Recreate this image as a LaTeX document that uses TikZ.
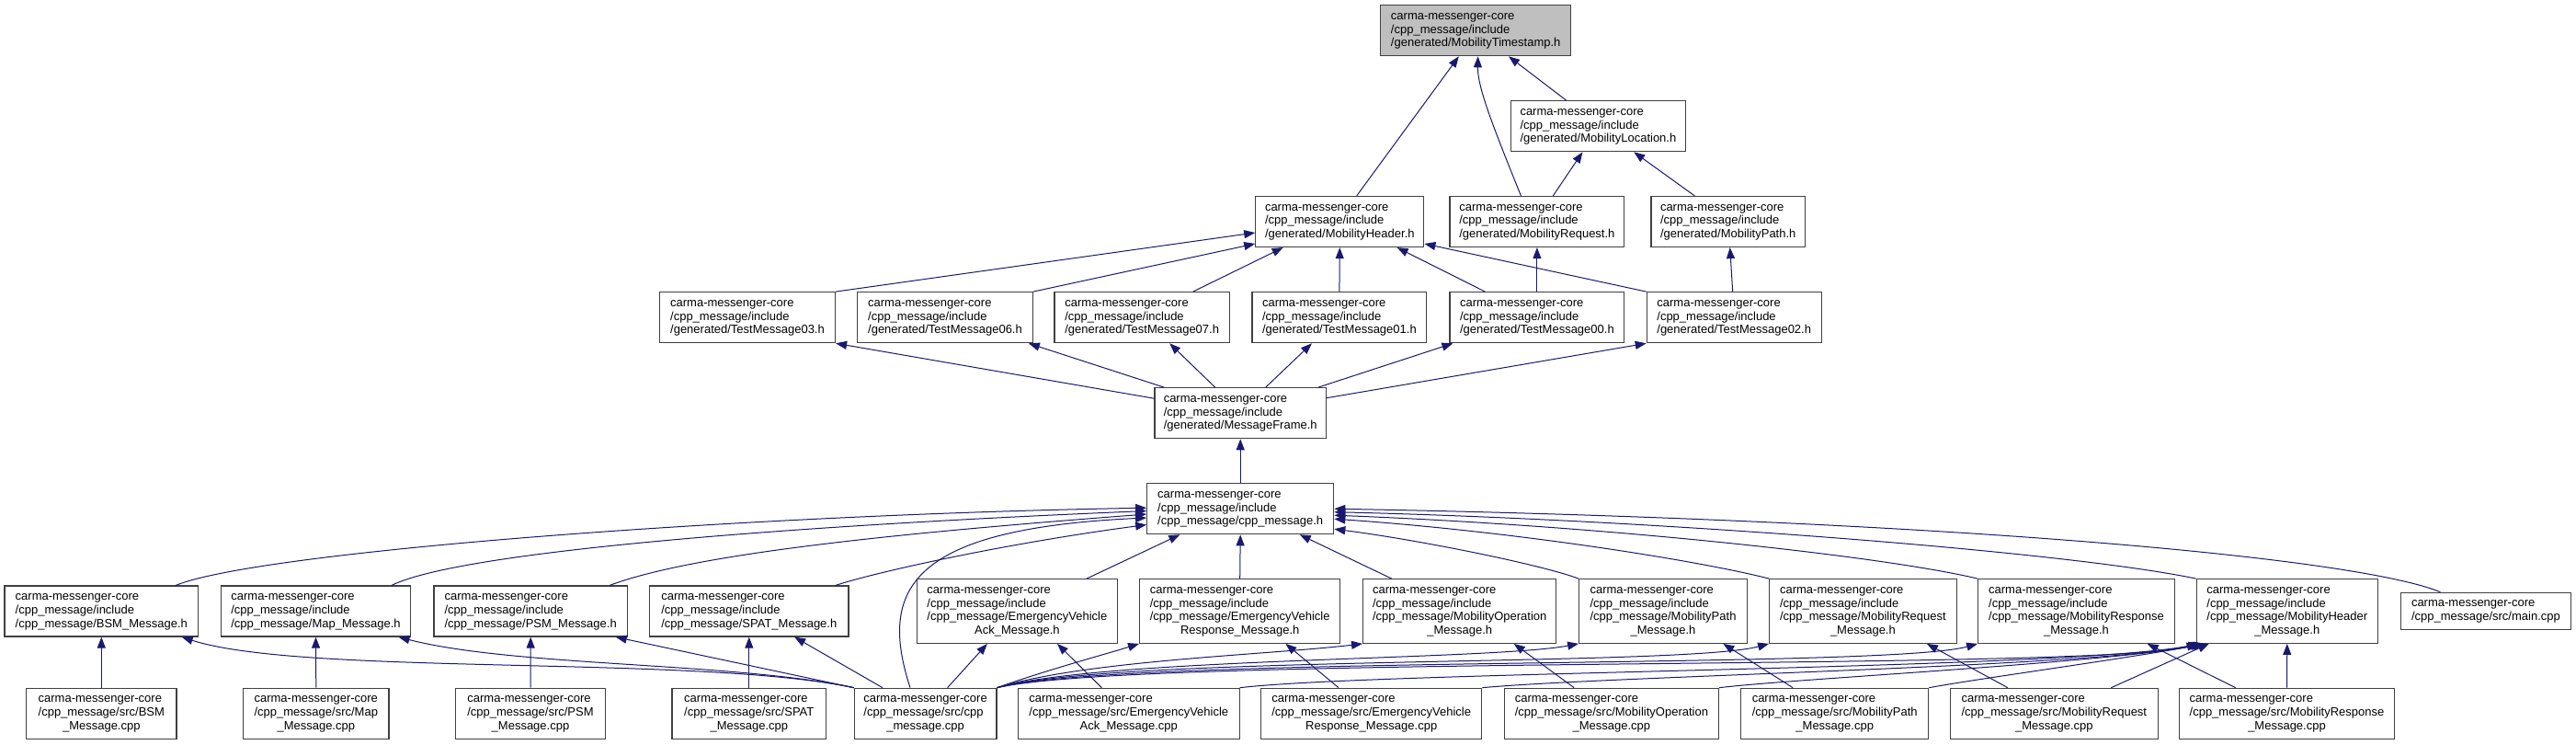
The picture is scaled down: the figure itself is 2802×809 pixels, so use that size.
\documentclass[tikz,border=0pt]{standalone}
\usepackage{fontspec}
\setmainfont{Liberation Sans}
\usetikzlibrary{arrows.meta}
\definecolor{midblue}{HTML}{191970}
\definecolor{boxline}{HTML}{404040}
\definecolor{grayfill}{HTML}{BFBFBF}
\newcommand{\nodefont}{\fontsize{13}{14.8}\selectfont}
\newcommand{\lbl}[2]{\begin{tabular}{@{}l@{}}#1\\\multicolumn{1}{@{}c@{}}{#2}\end{tabular}}
\renewcommand{\arraystretch}{1}
\begin{document}
\begin{tikzpicture}[x=1pt,y=-1pt,
  box/.style={draw=boxline, line width=1.2pt, fill=white, inner sep=0pt, font=\nodefont, text=black, minimum height=55pt},
  bw/.style={minimum width=#1pt},
  fourl/.style={minimum height=69.6pt},
  twol/.style={minimum height=40pt},
  cur/.style={fill=grayfill},
  edge/.style={draw=midblue, line width=1pt, -{Triangle[length=12pt,width=9pt]}}]
\useasboundingbox (0,0) rectangle (2802,809);
% rows 0-2
\node[box,cur,bw=206.7] (ts) at (1605.2,33.2) {\lbl{carma-messenger-core\\/cpp\_message/include}{/generated/MobilityTimestamp.h}};
\node[box,bw=190.2] (loc) at (1738.4,137.2) {\lbl{carma-messenger-core\\/cpp\_message/include}{/generated/MobilityLocation.h}};
\node[box,bw=183] (hdr) at (1457.3,241) {\lbl{carma-messenger-core\\/cpp\_message/include}{/generated/MobilityHeader.h}};
\node[box,bw=189.8] (req) at (1671.9,241) {\lbl{carma-messenger-core\\/cpp\_message/include}{/generated/MobilityRequest.h}};
\node[box,bw=167.6] (path) at (1879.7,241) {\lbl{carma-messenger-core\\/cpp\_message/include}{/generated/MobilityPath.h}};
% row 3
\node[box,bw=191] (tm03) at (813,345.2) {\lbl{carma-messenger-core\\/cpp\_message/include}{/generated/TestMessage03.h}};
\node[box,bw=190.5] (tm06) at (1028,345.2) {\lbl{carma-messenger-core\\/cpp\_message/include}{/generated/TestMessage06.h}};
\node[box,bw=190.6] (tm07) at (1242.2,345.2) {\lbl{carma-messenger-core\\/cpp\_message/include}{/generated/TestMessage07.h}};
\node[box,bw=189.8] (tm01) at (1456.9,345.2) {\lbl{carma-messenger-core\\/cpp\_message/include}{/generated/TestMessage01.h}};
\node[box,bw=189.8] (tm00) at (1671.9,345.2) {\lbl{carma-messenger-core\\/cpp\_message/include}{/generated/TestMessage00.h}};
\node[box,bw=189.8] (tm02) at (1886.2,345.2) {\lbl{carma-messenger-core\\/cpp\_message/include}{/generated/TestMessage02.h}};
% rows 4-5
\node[box,bw=186.3] (mf) at (1349.2,449.2) {\lbl{carma-messenger-core\\/cpp\_message/include}{/generated/MessageFrame.h}};
\node[box,bw=203] (cpph) at (1349.2,553.2) {\lbl{carma-messenger-core\\/cpp\_message/include}{/cpp\_message/cpp\_message.h}};
% row 6
\node[box,bw=210.5] (bsmh) at (110.3,664.5) {\lbl{carma-messenger-core\\/cpp\_message/include}{/cpp\_message/BSM\_Message.h}};
\node[box,bw=206] (maph) at (343.5,664.5) {\lbl{carma-messenger-core\\/cpp\_message/include}{/cpp\_message/Map\_Message.h}};
\node[box,bw=210.4] (psmh) at (577.2,664.5) {\lbl{carma-messenger-core\\/cpp\_message/include}{/cpp\_message/PSM\_Message.h}};
\node[box,bw=216.2] (spath) at (814.8,664.5) {\lbl{carma-messenger-core\\/cpp\_message/include}{/cpp\_message/SPAT\_Message.h}};
\node[box,fourl,bw=218.1] (evackh) at (1106.4,664.5) {\lbl{carma-messenger-core\\/cpp\_message/include\\/cpp\_message/EmergencyVehicle}{Ack\_Message.h}};
\node[box,fourl,bw=218.1] (evresph) at (1348.7,664.5) {\lbl{carma-messenger-core\\/cpp\_message/include\\/cpp\_message/EmergencyVehicle}{Response\_Message.h}};
\node[box,fourl,bw=210.2] (mobopth) at (1587.7,664.5) {\lbl{carma-messenger-core\\/cpp\_message/include\\/cpp\_message/MobilityOperation}{\_Message.h}};
\node[box,fourl,bw=182.7] (mobpathh) at (1809,664.5) {\lbl{carma-messenger-core\\/cpp\_message/include\\/cpp\_message/MobilityPath}{\_Message.h}};
\node[box,fourl,bw=203.4] (mobreqh) at (2026.4,664.5) {\lbl{carma-messenger-core\\/cpp\_message/include\\/cpp\_message/MobilityRequest}{\_Message.h}};
\node[box,fourl,bw=213.7] (mobresph) at (2258.5,664.5) {\lbl{carma-messenger-core\\/cpp\_message/include\\/cpp\_message/MobilityResponse}{\_Message.h}};
\node[box,fourl,bw=197.3] (mobhdrh) at (2487.8,664.5) {\lbl{carma-messenger-core\\/cpp\_message/include\\/cpp\_message/MobilityHeader}{\_Message.h}};
\node[box,twol,bw=185.2] (maincpp) at (2703.9,664.3) {\lbl{carma-messenger-core}{/cpp\_message/src/main.cpp}};
% bottom row
\node[box,bw=163.3] (bsmc) at (110.3,775.8) {\lbl{carma-messenger-core\\/cpp\_message/src/BSM}{\_Message.cpp}};
\node[box,bw=158.2] (mapc) at (343.8,775.8) {\lbl{carma-messenger-core\\/cpp\_message/src/Map}{\_Message.cpp}};
\node[box,bw=162.6] (psmc) at (577,775.8) {\lbl{carma-messenger-core\\/cpp\_message/src/PSM}{\_Message.cpp}};
\node[box,bw=167.8] (spatc) at (814.8,775.8) {\lbl{carma-messenger-core\\/cpp\_message/src/SPAT}{\_Message.cpp}};
\node[box,bw=154.6] (cppc) at (1006.6,775.8) {\lbl{carma-messenger-core\\/cpp\_message/src/cpp}{\_message.cpp}};
\node[box,bw=240.6] (evackc) at (1227.8,775.8) {\lbl{carma-messenger-core\\/cpp\_message/src/EmergencyVehicle}{Ack\_Message.cpp}};
\node[box,bw=240] (evrespc) at (1491.7,775.8) {\lbl{carma-messenger-core\\/cpp\_message/src/EmergencyVehicle}{Response\_Message.cpp}};
\node[box,bw=232.7] (mobopc) at (1752.9,775.8) {\lbl{carma-messenger-core\\/cpp\_message/src/MobilityOperation}{\_Message.cpp}};
\node[box,bw=204] (mobpathc) at (1995.7,775.8) {\lbl{carma-messenger-core\\/cpp\_message/src/MobilityPath}{\_Message.cpp}};
\node[box,bw=225.8] (mobreqc) at (2234.3,775.8) {\lbl{carma-messenger-core\\/cpp\_message/src/MobilityRequest}{\_Message.cpp}};
\node[box,bw=234.3] (mobrespc) at (2487.5,775.8) {\lbl{carma-messenger-core\\/cpp\_message/src/MobilityResponse}{\_Message.cpp}};
% edges top
\draw[edge] ([xshift=18.4]hdr.north) -- ([xshift=-18.4]ts.south);
\draw[edge] ([xshift=-17.5]req.north) .. controls (1625,140) and (1607,95) .. ([xshift=2.4]ts.south);
\draw[edge] ([xshift=-34.8]loc.north) -- ([xshift=35.8]ts.south);
\draw[edge] ([xshift=17.4]req.north) -- ([xshift=-17]loc.south);
\draw[edge] ([xshift=-36.4]path.north) -- ([xshift=38.8]loc.south);
\draw[edge] (tm03.north east) -- ([yshift=-12]hdr.west);
\draw[edge] (tm06.north east) -- ([yshift=-24]hdr.west);
\draw[edge] ([xshift=55.5]tm07.north) -- ([xshift=-61.6]hdr.south);
\draw[edge] (tm01.north) -- (hdr.south);
\draw[edge] ([xshift=-56.6]tm00.north) -- ([xshift=62.3]hdr.south);
\draw[edge] (tm02.north west) -- ([yshift=-24]hdr.east);
\draw[edge] (tm00.north) -- (req.south);
\draw[edge] ([xshift=-1.5]tm02.north) -- ([xshift=2]path.south);
% MessageFrame
\draw[edge] ([yshift=16]mf.west) -- (tm03.south east);
\draw[edge] ([xshift=10.7]mf.north west) -- ([xshift=-5]tm06.south east);
\draw[edge] ([xshift=-27.5]mf.north) -- ([xshift=30]tm07.south);
\draw[edge] ([xshift=27.5]mf.north) -- ([xshift=-30]tm01.south);
\draw[edge] ([xshift=-9]mf.north east) -- ([xshift=4]tm00.south west);
\draw[edge] ([yshift=16.5]mf.east) -- (tm02.south west);
\draw[edge] (cpph.north) -- (mf.south);
% into cpp_message.h
\draw[edge] ([xshift=81]bsmh.north) .. controls (280,600) and (800,560) .. ([yshift=1]cpph.west);
\draw[edge] ([xshift=82.5]maph.north) .. controls (500,600) and (850,572) .. ([yshift=-2.3]cpph.west);
\draw[edge] ([xshift=86]psmh.north) .. controls (760,600) and (1000,578) .. ([yshift=-5.8]cpph.west);
\draw[edge] ([xshift=94]spath.north) .. controls (960,620) and (1100,590) .. ([yshift=-17.3]cpph.west);
\draw[edge] ([xshift=-16.6]cppc.north) .. controls (955,640) and (990,575) .. ([yshift=-9.8]cpph.west);
\draw[edge] ([xshift=75.6]evackh.north) -- ([xshift=-65.8]cpph.south);
\draw[edge] (evresph.north) -- (cpph.south);
\draw[edge] ([xshift=-74]mobopth.north) -- ([xshift=64.5]cpph.south);
\draw[edge] ([xshift=-49.5]maincpp.north) .. controls (2560,605) and (2100,565) .. (cpph.east);
\draw[edge] (mobhdrh.north west) .. controls (2250,600) and (1800,565) .. ([yshift=-3.5]cpph.east);
\draw[edge] (mobresph.north west) .. controls (2050,605) and (1750,572) .. ([yshift=-7]cpph.east);
\draw[edge] (mobreqh.north west) .. controls (1850,610) and (1650,578) .. ([yshift=-11]cpph.east);
\draw[edge] (mobpathh.north west) .. controls (1680,615) and (1550,588) .. ([yshift=-22]cpph.east);
% cpp -> h
\draw[edge] (bsmc.north) -- (bsmh.south);
\draw[edge] (mapc.north) -- (maph.south);
\draw[edge] (psmc.north) -- (psmh.south);
\draw[edge] (spatc.north) -- (spath.south);
\draw[edge] ([xshift=-29.4]evackc.north) -- ([xshift=43.6]evackh.south);
\draw[edge] ([xshift=-35.7]evrespc.north) -- ([xshift=49.7]evresph.south);
\draw[edge] ([xshift=-40.7]mobopc.north) -- ([xshift=59]mobopth.south);
\draw[edge] ([xshift=-45.5]mobpathc.north) -- ([xshift=65.3]mobpathh.south);
\draw[edge] ([xshift=-50.4]mobreqc.north) -- ([xshift=69.5]mobreqh.south);
\draw[edge] ([xshift=-55.9]mobrespc.north) -- ([xshift=77.2]mobresph.south);
\draw[edge] (mobrespc.north) -- (mobhdrh.south);
\draw[edge] ([xshift=62]mobreqc.north) -- ([xshift=-85]mobhdrh.south);
% cpp_message.cpp -> headers
\draw[edge] ([xshift=-46.6]cppc.north) -- ([xshift=49.4]spath.south);
\draw[edge] (cppc.north west) -- ([xshift=92.5]psmh.south);
\draw[edge] (cppc.north west) .. controls (800,720) and (560,725) .. ([xshift=90]maph.south);
\draw[edge] (cppc.north west) .. controls (760,712) and (330,735) .. ([xshift=87.4]bsmh.south);
\draw[edge] ([xshift=24]cppc.north) -- ([xshift=-32.5]evackh.south);
\draw[edge] (cppc.north east) .. controls (1140,728) and (1200,712) .. (evresph.south west);
\draw[edge] (cppc.north east) .. controls (1180,718) and (1380,712) .. (mobopth.south west);
\draw[edge] (cppc.north east) .. controls (1200,715) and (1620,718) .. (mobpathh.south west);
\draw[edge] (cppc.north east) .. controls (1220,712) and (1830,725) .. (mobreqh.south west);
\draw[edge] (cppc.north east) .. controls (1230,712) and (2050,728) .. (mobresph.south west);
\draw[edge] (cppc.north east) .. controls (1240,712) and (2280,730) .. ([xshift=2]mobhdrh.south west);
% others -> MobilityHeader_Message.h
\draw[edge] (evackc.north east) .. controls (1500,730) and (2250,728) .. ([xshift=4]mobhdrh.south west);
\draw[edge] (evrespc.north east) .. controls (1750,735) and (2280,725) .. ([xshift=6]mobhdrh.south west);
\draw[edge] (mobopc.north east) .. controls (1950,738) and (2300,720) .. ([xshift=8]mobhdrh.south west);
\draw[edge] (mobpathc.north east) .. controls (2150,738) and (2320,715) .. ([xshift=10]mobhdrh.south west);
\end{tikzpicture}
\end{document}
